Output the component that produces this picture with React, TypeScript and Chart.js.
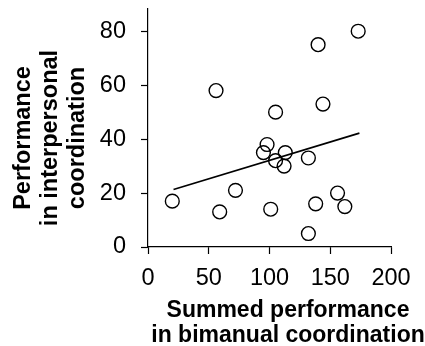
import React, { useEffect, useRef } from "react";
import { Chart, registerables } from "chart.js";

Chart.register(...registerables);

// Data
const bimanual = [20, 56, 59, 72, 95, 98, 101, 105, 105, 113, 112, 132, 132, 138, 140, 144, 156, 162, 173];
const interpersonal = [17, 58, 13, 21, 35, 38, 14, 50, 32, 35, 30, 33, 5, 16, 75, 53, 20, 15, 80];
const fitX = [21, 174];
const fitY = [21.3, 42.2];
const xTickValues = [0, 50, 100, 150, 200];
const yTickValues = [0, 20, 40, 60, 80];
const xTitleLines = ["Summed performance", "in bimanual coordination"];
const yTitleLines = ["Performance", "in interpersonal", "coordination"];

const FONT = '"Liberation Sans", Arial, sans-serif';

const titlePlugin = {
  id: "axisTitles",
  afterDraw(chart: any) {
    const { ctx, chartArea } = chart;
    ctx.save();
    ctx.fillStyle = "#000";
    ctx.textAlign = "center";
    ctx.textBaseline = "alphabetic";
    ctx.font = `bold 23px ${FONT}`;
    const cx = chartArea.left + 140;
    xTitleLines.forEach((t, i) => ctx.fillText(t, cx, chartArea.bottom + 69.5 + i * 25.5));
    ctx.font = `bold 23.5px ${FONT}`;
    ctx.translate(chartArea.left - 118, chartArea.bottom - 109);
    ctx.rotate(-Math.PI / 2);
    yTitleLines.forEach((t, i) => ctx.fillText(t, 0, i * 27));
    ctx.restore();
  },
};

export default function App() {
  const ref = useRef<HTMLCanvasElement | null>(null);
  useEffect(() => {
    if (!ref.current) return;
    const chart = new Chart(ref.current, {
      type: "scatter",
      data: {
        datasets: [
          {
            type: "scatter",
            data: bimanual.map((x, i) => ({ x, y: interpersonal[i] })),
            pointRadius: 6.9,
            pointBorderWidth: 1.4,
            pointBorderColor: "#000",
            pointBackgroundColor: "rgba(0,0,0,0)",
            borderColor: "#000",
            backgroundColor: "rgba(0,0,0,0)",
          },
          {
            type: "line",
            data: fitX.map((x, i) => ({ x, y: fitY[i] })),
            borderColor: "#000",
            borderWidth: 1.7,
            pointRadius: 0,
            fill: false,
          },
        ],
      },
      options: {
        animation: false,
        responsive: false,
        events: [],
        layout: { padding: { top: 0, right: 34, bottom: 0, left: 0 } },
        plugins: { legend: { display: false }, tooltip: { enabled: false }, title: { display: false } },
        scales: {
          x: {
            type: "linear",
            min: 0,
            max: 200,
            afterBuildTicks: (s: any) => {
              s.ticks = xTickValues.map((v) => ({ value: v }));
            },
            afterFit: (s: any) => {
              s.height = 99;
            },
            grid: { display: true, drawOnChartArea: false, drawTicks: true, tickLength: 7, color: "#000", tickColor: "#000", tickWidth: 1.2 },
            border: { display: true, color: "#000", width: 1.2 },
            ticks: { color: "#000", font: { family: FONT, size: 23.5 }, padding: 10, maxRotation: 0, autoSkip: false },
          },
          y: {
            type: "linear",
            min: 0,
            max: 88.5,
            afterBuildTicks: (s: any) => {
              s.ticks = yTickValues.map((v) => ({ value: v }));
            },
            afterFit: (s: any) => {
              s.width = 148;
              s.paddingTop = 0;
              s.paddingBottom = 0;
            },
            grid: { display: true, drawOnChartArea: false, drawTicks: true, tickLength: 7, color: "#000", tickColor: "#000", tickWidth: 1.2 },
            border: { display: true, color: "#000", width: 1.2 },
            ticks: { color: "#000", font: { family: FONT, size: 23.5 }, padding: 15, autoSkip: false },
          },
        },
      },
      plugins: [titlePlugin],
    });
    return () => chart.destroy();
  }, []);
  return (
    <div style={{ position: "absolute", left: 0, top: 0, width: 425, height: 346, background: "#fff" }}>
      <canvas ref={ref} width={425} height={346} style={{ display: "block" }} />
    </div>
  );
}
